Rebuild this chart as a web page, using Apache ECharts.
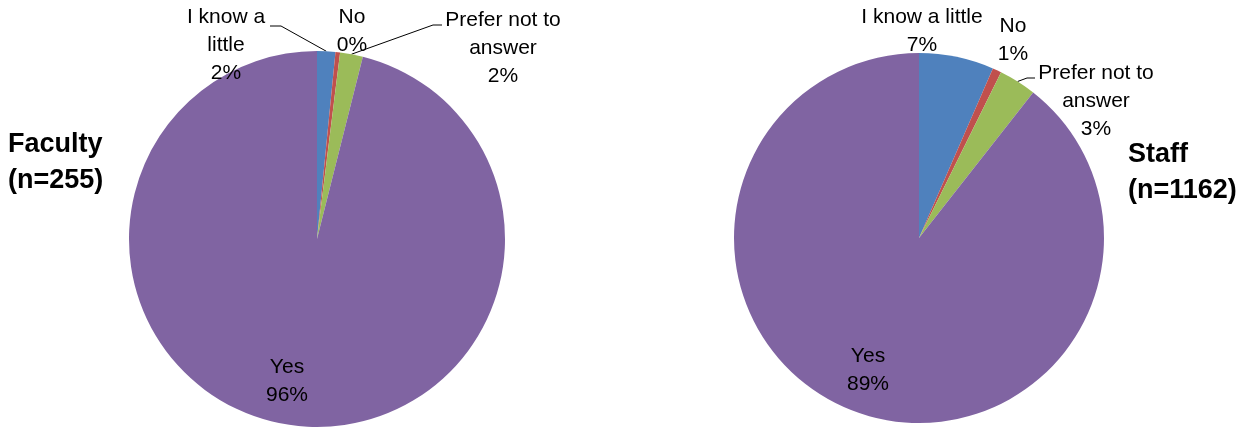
<!DOCTYPE html>
<html>
<head>
<meta charset="utf-8">
<script src="https://cdn.jsdelivr.net/npm/echarts@6/dist/echarts.min.js"></script>
<style>
html,body{margin:0;padding:0;background:#fff;}
#chart{width:1247px;height:429px;}
</style>
</head>
<body>
<div id="chart"></div>
<script>
// ---- data ----
const categories = ['I know a little', 'No', 'Prefer not to answer', 'Yes'];
const facultyLabels = ['I know a\nlittle', 'No', 'Prefer not to\nanswer', 'Yes'];
const staffLabels = ['I know a little', 'No', 'Prefer not to\nanswer', 'Yes'];
const facultyCounts = [4, 1, 5, 245];
const staffCounts = [76, 9, 38, 1039];
const titles = ['Faculty\n(n=255)', 'Staff\n(n=1162)'];
const colors = ['#4F81BD', '#C0504D', '#9BBB59', '#8064A2'];

// ---- label layout (center x, top y, leader elbow) ----
const labelPlace = [
  [
    {x: 226, y: 3, line: [[281, 26], [270, 26]]},
    {x: 352, y: 3},
    {x: 503, y: 6, line: [[433, 25], [442, 25]]},
    {x: 287, y: 353}
  ],
  [
    {x: 922, y: 3},
    {x: 1013, y: 12},
    {x: 1096, y: 59, line: [[1027, 78], [1035, 78]]},
    {x: 868, y: 342}
  ]
];

function buildData(counts, labels, sIdx) {
  return counts.map((v, i) => ({
    value: v,
    name: categories[i],
    itemStyle: {color: colors[i]},
    labelLine: {show: !!labelPlace[sIdx][i].line},
    label: {formatter: p => labels[i] + '\n' + Math.round(p.percent) + '%'}
  }));
}

const font = 'Liberation Sans, Arial, sans-serif';

function makeSeries(counts, labels, sIdx, center, radius) {
  return {
    type: 'pie',
    center: center,
    radius: radius,
    startAngle: 90,
    clockwise: true,
    avoidLabelOverlap: false,
    animation: false,
    itemStyle: {borderWidth: 0},
    label: {
      show: true,
      position: 'outside',
      color: '#000',
      fontFamily: font,
      fontSize: 21,
      lineHeight: 28,
      align: 'center'
    },
    labelLine: {
      show: true,
      lineStyle: {color: '#000', width: 1},
      length: 5,
      length2: 5
    },
    labelLayout: function (params) {
      const cfg = labelPlace[params.seriesIndex][params.dataIndex];
      const out = {x: cfg.x, y: cfg.y, align: 'center', verticalAlign: 'top'};
      if (cfg.line && params.labelLinePoints) {
        out.labelLinePoints = [params.labelLinePoints[0], cfg.line[0], cfg.line[1]];
      }
      return out;
    },
    data: buildData(counts, labels, sIdx)
  };
}

const chart = echarts.init(document.getElementById('chart'), null, {renderer: 'canvas'});
chart.setOption({
  backgroundColor: '#fff',
  animation: false,
  title: [
    {text: titles[0], left: 8, top: 127, padding: 0,
     textStyle: {fontFamily: font, fontWeight: 'bold', fontSize: 27, lineHeight: 36, color: '#000'}},
    {text: titles[1], left: 1128, top: 137, padding: 0,
     textStyle: {fontFamily: font, fontWeight: 'bold', fontSize: 27, lineHeight: 36, color: '#000'}}
  ],
  series: [
    makeSeries(facultyCounts, facultyLabels, 0, [317, 239], 188),
    makeSeries(staffCounts, staffLabels, 1, [919, 238], 185)
  ]
});
</script>
</body>
</html>
